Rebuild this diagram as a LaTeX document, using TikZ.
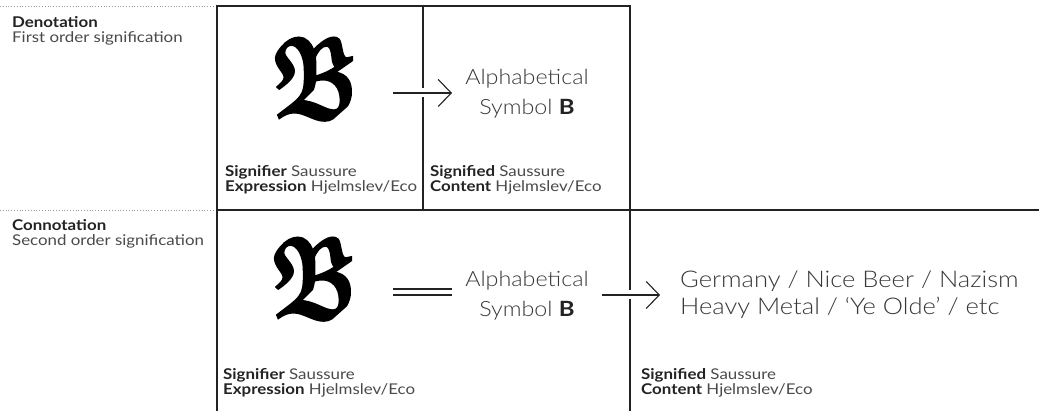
\documentclass[tikz,border=0pt]{standalone}
\usepackage{amsmath,amssymb,bm}
\usepackage{fontspec}
\setmainfont{Lato}[FakeStretch=1.14]
\newfontfamily\lightfont{Lato Light}[FakeStretch=1.11]
\usetikzlibrary{arrows.meta}
\definecolor{ink}{HTML}{222222}
\definecolor{txt}{HTML}{4A4A4A}
\definecolor{lite}{HTML}{383838}
\definecolor{dark}{HTML}{232323}
\newcommand\boldB{{\normalfont\bfseries\color{dark}B}}
\newcommand\hd[1]{{\bfseries\color{dark}#1}}
\newcommand\gothB{\scalebox{0.8}[1.1]{\special{pdf:literal direct 2 Tr 2.4 w}$\bm{\mathfrak{B}}$\special{pdf:literal direct 0 Tr}}}
\begin{document}
\begin{tikzpicture}[x=1pt,y=-1pt,
  frame/.style={draw=ink, line width=1.4pt},
  dots/.style={draw=gray!80, line width=0.8pt, dash pattern=on 0.8pt off 2pt},
  lab/.style={inner sep=0pt, anchor=base west, text=txt, font=\fontsize{14.8}{16}\selectfont},
  side/.style={inner sep=0pt, anchor=base west, text=txt, font=\fontsize{14.8}{16}\selectfont},
  big/.style={inner sep=0pt, anchor=base, text=lite, font=\lightfont\fontsize{21}{24}\selectfont},
  huge/.style={inner sep=0pt, anchor=base west, text=lite, font=\lightfont\fontsize{23}{26}\selectfont},
  glyph/.style={inner sep=0pt, text=black, font=\fontsize{105}{105}\selectfont},
  sign/.style={draw=ink, line width=1.1pt, -{Straight Barb[length=13pt,width=27pt]},
    preaction={draw=white, line width=9pt}},
  same/.style={draw=ink, line width=1.1pt},
]
\useasboundingbox[fill=white] (0,0) rectangle (1039,411);

% dotted guide lines
\draw[dots] (0,6) -- (214,6);
\draw[dots] (0,210) -- (214,210);

% frames
\draw[frame] (217,411) -- (217,6) -- (630,6) -- (630,411);
\draw[frame] (423,6) -- (423,210);
\draw[frame] (217,210) -- (1039,210);

% side labels
\node[side] (den) at (12,28) {\hd{Denotation}};
\node[side] (den2) at (12,43) {First order signification};
\node[side] (con) at (12,231) {\hd{Connotation}};
\node[side] (con2) at (12,246) {Second order signification};

% top row
\node[glyph] (b1) at (315,77) {\gothB};
\node[big] (al1) at (527,85) {Alphabetical};
\node[big] (sy1) at (527,115) {Symbol \boldB};
\coordinate (a1s) at (393,93);
\coordinate (a1e) at (452,93);
\draw[sign] (a1s) -- (a1e);
\node[lab] (sr1) at (225,177) {\hd{Signifier} Saussure};
\node[lab] (ex1) at (225,192) {\hd{Expression} Hjelmslev/Eco};
\node[lab] (sd1) at (430,177) {\hd{Signified} Saussure};
\node[lab] (ct1) at (430,192) {\hd{Content} Hjelmslev/Eco};

% bottom row
\node[glyph] (b2) at (314,277) {\gothB};
\coordinate (e1) at (393,289);
\coordinate (e2) at (452,289);
\coordinate (e3) at (393,295);
\coordinate (e4) at (452,295);
\draw[same] (e1) -- (e2);
\draw[same] (e3) -- (e4);
\node[big] (al2) at (527,287) {Alphabetical};
\node[big] (sy2) at (527,317) {Symbol \boldB};
\coordinate (a2s) at (602,295);
\coordinate (a2e) at (660,295);
\draw[sign] (a2s) -- (a2e);
\node[huge] (g1) at (680,288) {Germany / Nice Beer / Nazism};
\node[huge] (g2) at (680,315) {Heavy Metal / ‘Ye Olde’ / etc};
\node[lab] (sr2) at (223,380) {\hd{Signifier} Saussure};
\node[lab] (ex2) at (223,395) {\hd{Expression} Hjelmslev/Eco};
\node[lab] (sd2) at (641,380) {\hd{Signified} Saussure};
\node[lab] (ct2) at (641,395) {\hd{Content} Hjelmslev/Eco};
\end{tikzpicture}
\end{document}
